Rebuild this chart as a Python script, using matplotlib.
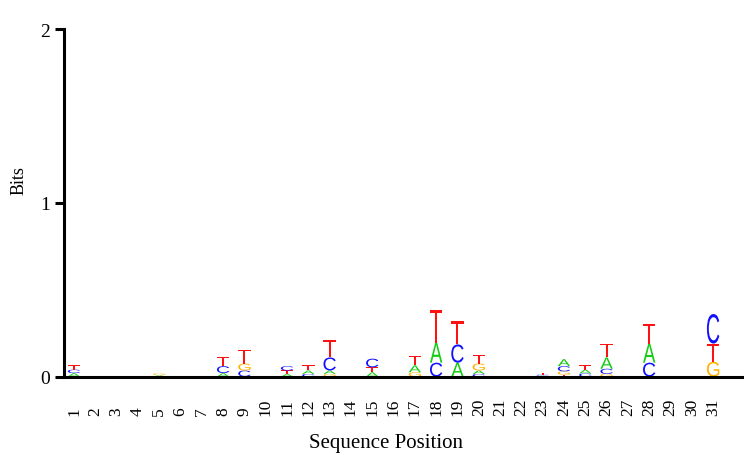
import matplotlib
matplotlib.use("Agg")
import matplotlib.pyplot as plt
from matplotlib.textpath import TextPath
from matplotlib.patches import PathPatch
from matplotlib.font_manager import FontProperties
from matplotlib.transforms import Affine2D

plt.rcParams['font.family'] = ['Liberation Serif', 'DejaVu Serif']

# -----------------------
# DATA (bits per base, positions 1..31)
# -----------------------
positions = list(range(1, 32))
A_bits = [0.02, 0, 0, 0, 0.008, 0, 0, 0.02, 0, 0,
          0.015, 0.02, 0.02, 0, 0.025, 0, 0.04, 0.115, 0.08, 0.02,
          0, 0, 0.005, 0.04, 0.022, 0.065, 0, 0.11, 0, 0, 0]
C_bits = [0.02, 0, 0, 0, 0, 0, 0, 0.04, 0.035, 0,
          0.025, 0.015, 0.075, 0, 0.05, 0, 0, 0.08, 0.105, 0.015,
          0, 0, 0.006, 0.03, 0.018, 0.03, 0, 0.08, 0, 0, 0.17]
G_bits = [0, 0, 0, 0, 0.01, 0, 0, 0, 0.04, 0,
          0, 0, 0.015, 0, 0, 0, 0.025, 0, 0, 0.04,
          0, 0, 0, 0.02, 0, 0.015, 0, 0, 0, 0, 0.085]
T_bits = [0.025, 0, 0, 0, 0, 0, 0, 0.05, 0.08, 0,
          0.02, 0.03, 0.10, 0, 0.028, 0, 0.055, 0.19, 0.135, 0.05,
          0, 0, 0.008, 0.01, 0.025, 0.08, 0, 0.115, 0, 0, 0.105]

colors = {"A": "#11cc11", "C": "#1111ff", "G": "#ffb300", "T": "#ff1111"}
letter_font = FontProperties(family="Liberation Sans")
LETTER_W = 0.58


def draw_letter(ax, letter, x, y, h):
    tp = TextPath((0, 0), letter, size=1, prop=letter_font)
    bb = tp.get_extents()
    t = (Affine2D().translate(-bb.x0, -bb.y0)
         .scale(LETTER_W / bb.width, h / bb.height)
         .translate(x - LETTER_W / 2, y))
    ax.add_patch(PathPatch(t.transform_path(tp), fc=colors[letter],
                           ec="none", lw=0))


fig = plt.figure(figsize=(7.44, 4.56), dpi=100)
ax = fig.add_axes([0.086, 0.172, 0.914, 0.762])

# stack letters: smallest at bottom, largest on top
for i, pos in enumerate(positions):
    col = {"A": A_bits[i], "C": C_bits[i], "G": G_bits[i], "T": T_bits[i]}
    y0 = 0.0
    for b, h in sorted(col.items(), key=lambda kv: kv[1]):
        if h <= 0:
            continue
        draw_letter(ax, b, pos, y0, h)
        y0 += h

ax.set_xlim(0.53, 32.45)
ax.set_ylim(0, 2)

for s in ["top", "right"]:
    ax.spines[s].set_visible(False)
for s in ["left", "bottom"]:
    ax.spines[s].set_linewidth(2.2)

ax.set_yticks([0, 1, 2])
ax.set_yticklabels(["0", "1", "2"])
ax.tick_params(axis="y", length=6.5, width=2.2, pad=3.5, labelsize=14)

ax.set_xticks(positions)
ax.set_xticklabels([str(p) for p in positions])
ax.tick_params(axis="x", length=0, pad=27.7, labelsize=12.5, labelrotation=90)
for lbl in ax.get_xticklabels():
    lbl.set_va("bottom")

ax.set_xlabel("Sequence Position", fontsize=15)
ax.xaxis.set_label_coords(0.474, -0.163)
ax.set_ylabel("Bits", fontsize=13)
ax.yaxis.set_label_coords(-0.054, 0.568)

fig.savefig("out.png", dpi=100)
